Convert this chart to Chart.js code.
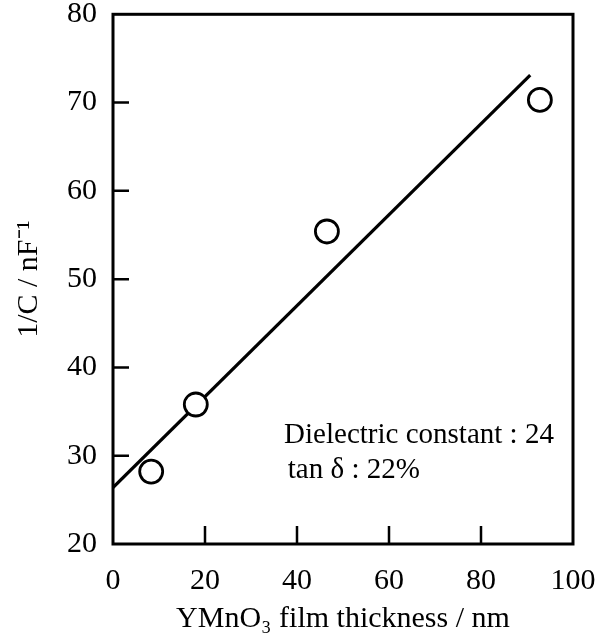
<!DOCTYPE html>
<html>
<head>
<meta charset="utf-8">
<script src="https://cdn.jsdelivr.net/npm/chart.js@4"></script>
<style>
  html, body { margin: 0; padding: 0; background: #fff; }
  canvas { display: block; }
</style>
</head>
<body>
<canvas id="chart" width="598" height="634"></canvas>
<script>
// measured points (film thickness nm, 1/C nF^-1)
const thickness = [8.3, 18.0, 46.5, 92.8];
const invCap = [28.2, 35.8, 55.4, 70.3];

// fitted line end points
const fitX = [0, 90.7];
const fitY = [26.4, 73.1];

const xTicks = [20, 40, 60, 80];
const yTicks = [30, 40, 50, 60, 70];

const notes = ['Dielectric constant : 24', 'tan \u03b4 : 22%'];

const serif = '"Liberation Serif", "Times New Roman", serif';

// frame + inward tick marks + the text box
const framePlugin = {
    id: 'frame',
    afterDatasetsDraw(chart) {
        const ctx = chart.ctx;
        const area = chart.chartArea;
        const xs = chart.scales.x;
        const ys = chart.scales.y;
        ctx.save();
        ctx.strokeStyle = '#000';
        ctx.lineWidth = 3;
        ctx.strokeRect(area.left, area.top, area.right - area.left, area.bottom - area.top);

        ctx.lineWidth = 2.5;
        ctx.beginPath();
        xTicks.forEach(v => {
            const px = xs.getPixelForValue(v);
            ctx.moveTo(px, area.bottom);
            ctx.lineTo(px, area.bottom - 18);
        });
        yTicks.forEach(v => {
            const py = ys.getPixelForValue(v);
            ctx.moveTo(area.left, py);
            ctx.lineTo(area.left + 16, py);
        });
        ctx.stroke();

        ctx.fillStyle = '#000';
        ctx.font = '29px ' + serif;
        ctx.textBaseline = 'alphabetic';
        ctx.textAlign = 'left';
        ctx.fillText(notes[0], xs.getPixelForValue(37.2), ys.getPixelForValue(31.4));
        ctx.fillText(notes[1], xs.getPixelForValue(38.0), ys.getPixelForValue(27.5));
        ctx.restore();
    }
};

const ctx = document.getElementById('chart').getContext('2d');
new Chart(ctx, {
    type: 'scatter',
    data: {
        datasets: [{
            label: 'data',
            data: thickness.map((x, i) => ({x: x, y: invCap[i]})),
            pointStyle: 'circle',
            pointRadius: 11.5,
            pointBorderWidth: 2.8,
            pointBackgroundColor: '#fff',
            pointBorderColor: '#000',
            showLine: false
        }, {
            label: 'fit',
            type: 'line',
            data: fitX.map((x, i) => ({x: x, y: fitY[i]})),
            borderColor: '#000',
            borderWidth: 3.2,
            pointRadius: 0,
            fill: false
        }]
    },
    options: {
        responsive: false,
        animation: false,
        layout: { padding: { left: 0, top: 12, right: 25, bottom: 0 } },
        plugins: {
            legend: { display: false },
            tooltip: { enabled: false }
        },
        scales: {
            x: {
                type: 'linear',
                min: 0,
                max: 100,
                grid: { display: false, drawTicks: false },
                border: { display: false },
                ticks: {
                    stepSize: 20,
                    padding: 19,
                    color: '#000',
                    font: { family: serif, size: 30 }
                },
                title: {
                    display: true,
                    text: 'YMnO\u2083 film thickness / nm',
                    color: '#000',
                    font: { family: serif, size: 30, lineHeight: 1.2 },
                    padding: { top: 0, bottom: -3 }
                },
                afterFit(scale) {
                    scale.height = 90;
                    scale.paddingLeft = 0;
                    scale.paddingRight = 0;
                }
            },
            y: {
                type: 'linear',
                min: 20,
                max: 80,
                grid: { display: false, drawTicks: false },
                border: { display: false },
                ticks: {
                    stepSize: 10,
                    padding: 16,
                    color: '#000',
                    font: { family: serif, size: 30 }
                },
                title: {
                    display: true,
                    text: '1/C / nF\u207b\u00b9',
                    color: '#000',
                    font: { family: serif, size: 30, lineHeight: 1.2 },
                    padding: { top: 11, bottom: 0 }
                },
                afterFit(scale) {
                    scale.width = 113;
                    scale.paddingTop = 0;
                    scale.paddingBottom = 0;
                }
            }
        }
    },
    plugins: [framePlugin]
});
</script>
</body>
</html>
